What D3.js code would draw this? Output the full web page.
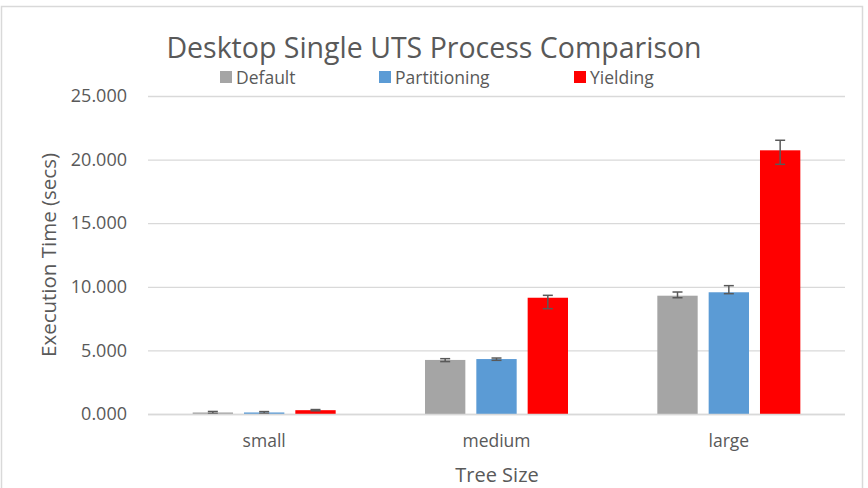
<!DOCTYPE html>
<html>
<head>
<meta charset="utf-8">
<script src="https://cdn.jsdelivr.net/npm/d3@7"></script>
<style>
  html, body { margin: 0; padding: 0; background: #fff; }
  svg { display: block; font-family: "Open Sans", "Noto Sans", sans-serif; }
</style>
</head>
<body>
<svg id="chart" width="868" height="488"></svg>
<script>
const categories = ["small", "medium", "large"];
const seriesNames = ["Default", "Partitioning", "Yielding"];
const seriesColors = ["#A5A5A5", "#5B9BD5", "#FF0000"];
const defaultValues = [0.12, 4.25, 9.30];
const partitioningValues = [0.12, 4.32, 9.57];
const yieldingValues = [0.30, 9.14, 20.73];
const defaultErrUp = [0.08, 0.10, 0.29];
const defaultErrDown = [0.08, 0.13, 0.16];
const partitioningErrUp = [0.07, 0.08, 0.52];
const partitioningErrDown = [0.07, 0.10, 0.11];
const yieldingErrUp = [0.05, 0.19, 0.79];
const yieldingErrDown = [0.05, 0.86, 1.10];
const yTicks = [0, 5, 10, 15, 20, 25];
const yTickLabels = ["0.000", "5.000", "10.000", "15.000", "20.000", "25.000"];

const values = [defaultValues, partitioningValues, yieldingValues];
const errUp = [defaultErrUp, partitioningErrUp, yieldingErrUp];
const errDown = [defaultErrDown, partitioningErrDown, yieldingErrDown];

const svg = d3.select("#chart");
const textColor = "#595959";

// outer border
svg.append("rect").attr("x", 1.5).attr("y", 6.5).attr("width", 861).attr("height", 490)
  .attr("fill", "none").attr("stroke", "#D9D9D9").attr("stroke-width", 1.5);

const plot = { left: 148, right: 845, top: 96, bottom: 414 };

const y = d3.scaleLinear().domain([0, 25]).range([plot.bottom, plot.top]);
const x0 = d3.scaleBand().domain(categories).range([plot.left, plot.right])
  .paddingInner(0.3845).paddingOuter(0.3845 / 2);
const x1 = d3.scaleBand().domain(seriesNames).range([0, x0.bandwidth()])
  .paddingInner(0.214).paddingOuter(0);

// gridlines + y tick labels
const yAxis = d3.axisLeft(y)
  .tickValues(yTicks)
  .tickFormat((d, i) => yTickLabels[i])
  .tickSize(-(plot.right - plot.left))
  .tickPadding(21);
const gy = svg.append("g").attr("transform", `translate(${plot.left},0)`).call(yAxis);
gy.select(".domain").remove();
gy.selectAll(".tick line").attr("stroke", "#D9D9D9").attr("stroke-width", 1.3);
gy.selectAll(".tick text").attr("fill", textColor).style("font-size", "18px")
  .style("font-family", "'Open Sans', sans-serif");

// bars
seriesNames.forEach((s, si) => {
  const g = svg.append("g");
  g.selectAll("rect")
    .data(categories)
    .join("rect")
    .attr("x", c => x0(c) + x1(s))
    .attr("width", x1.bandwidth())
    .attr("y", (c, ci) => y(values[si][ci]))
    .attr("height", (c, ci) => y(0) - y(values[si][ci]))
    .attr("fill", seriesColors[si]);
});

// error bars
const capW = 10;
seriesNames.forEach((s, si) => {
  const g = svg.append("g").attr("stroke", "#595959").attr("stroke-width", 1.5).attr("fill", "none");
  categories.forEach((c, ci) => {
    const cx = x0(c) + x1(s) + x1.bandwidth() / 2;
    const hi = y(values[si][ci] + errUp[si][ci]);
    const lo = y(values[si][ci] - errDown[si][ci]);
    g.append("line").attr("x1", cx).attr("x2", cx).attr("y1", hi).attr("y2", lo);
    g.append("line").attr("x1", cx - capW / 2).attr("x2", cx + capW / 2).attr("y1", hi).attr("y2", hi);
    g.append("line").attr("x1", cx - capW / 2).attr("x2", cx + capW / 2).attr("y1", lo).attr("y2", lo);
  });
});

// x axis (baseline + labels)
const xAxis = d3.axisBottom(x0).tickSize(0).tickPadding(21);
const gx = svg.append("g").attr("transform", `translate(0,${plot.bottom})`).call(xAxis);
gx.select(".domain").attr("stroke", "#D9D9D9").attr("stroke-width", 1.3)
  .attr("d", `M${plot.left},0.5H${plot.right}`);
gx.selectAll(".tick text").attr("fill", textColor).style("font-size", "17.5px")
  .style("font-family", "'Open Sans', sans-serif");

// title
svg.append("text").attr("x", 434).attr("y", 58).attr("text-anchor", "middle")
  .attr("fill", textColor).style("font-size", "28.5px").text("Desktop Single UTS Process Comparison");

// axis titles
svg.append("text").attr("x", 497).attr("y", 482).attr("text-anchor", "middle")
  .attr("fill", textColor).style("font-size", "20px").text("Tree Size");
svg.append("text").attr("transform", `translate(56,${(plot.top + plot.bottom) / 2}) rotate(-90)`)
  .attr("text-anchor", "middle").attr("fill", textColor).style("font-size", "20.5px")
  .text("Execution Time (secs)");

// legend
const legendX = [220, 379, 574];
const legend = svg.append("g");
seriesNames.forEach((s, i) => {
  legend.append("rect").attr("x", legendX[i]).attr("y", 71).attr("width", 12).attr("height", 12)
    .attr("fill", seriesColors[i]);
  legend.append("text").attr("x", legendX[i] + 16).attr("y", 83.5).attr("fill", textColor)
    .style("font-size", "17.5px").text(s);
});
</script>
</body>
</html>
